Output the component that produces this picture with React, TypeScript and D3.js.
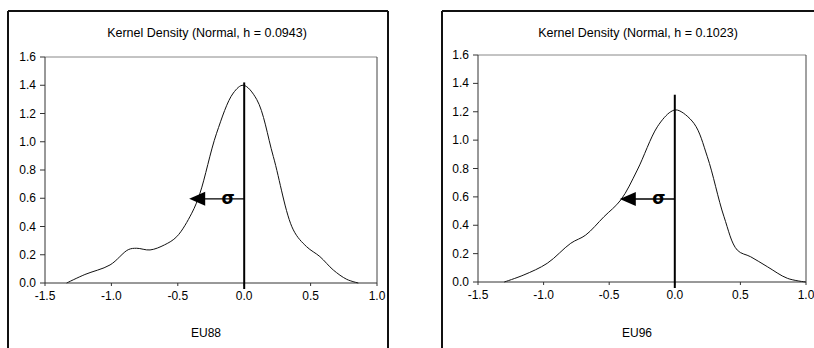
import React from "react";
import * as d3 from "d3";

const xTicks = [-1.5, -1.0, -0.5, 0.0, 0.5, 1.0];
const yTicks = [0.0, 0.2, 0.4, 0.6, 0.8, 1.0, 1.2, 1.4, 1.6];

const eu88X = [-1.337, -1.2, -1.01, -0.873, -0.81, -0.709, -0.6, -0.508, -0.395, -0.333, -0.208, -0.082, -0.007, 0.094, 0.219, 0.37, 0.47, 0.57, 0.671, 0.772, 0.859];
const eu88Y = [0.0, 0.06, 0.128, 0.236, 0.246, 0.234, 0.27, 0.328, 0.494, 0.636, 1.06, 1.345, 1.4, 1.3, 0.896, 0.376, 0.257, 0.187, 0.092, 0.026, 0.0];

const eu96X = [-1.3, -1.15, -0.972, -0.793, -0.679, -0.54, -0.412, -0.286, -0.133, -0.031, 0.019, 0.146, 0.248, 0.375, 0.476, 0.578, 0.705, 0.858, 0.998];
const eu96Y = [0.0, 0.05, 0.132, 0.273, 0.331, 0.46, 0.578, 0.789, 1.094, 1.2, 1.212, 1.118, 0.883, 0.46, 0.225, 0.178, 0.108, 0.026, 0.0];

const titles = ["Kernel Density (Normal, h = 0.0943)", "Kernel Density (Normal, h = 0.1023)"];
const seriesNames = ["EU88", "EU96"];
const sigmaLevels = [0.596, 0.585];
const lineTops = [1.42, 1.32];

const FONT = "'Liberation Sans', Arial, sans-serif";

function Panel(props: {
  xs: number[]; ys: number[]; title: string; name: string;
  left: number; right: number; top: number; bottom: number;
  frameL: number; frameR: number; sigmaY: number; lineTop: number;
}) {
  const { xs, ys, title, name, left, right, top, bottom, frameL, frameR, sigmaY, lineTop } = props;
  const x = d3.scaleLinear().domain([-1.5, 1.0]).range([left, right]);
  const y = d3.scaleLinear().domain([0, 1.6]).range([bottom, top]);
  const pts: [number, number][] = xs.map((v, i) => [v, ys[i]]);
  const line = d3.line<[number, number]>().x(d => x(d[0])).y(d => y(d[1])).curve(d3.curveCatmullRom.alpha(0.5));
  const cx = (left + right) / 2;
  const x0 = x(0);
  const ay = y(sigmaY);
  const tip = x0 - 55;
  return (
    <g fontFamily={FONT} fill="#000">
      {/* outer frame */}
      <line x1={frameL} y1={11} x2={frameR} y2={11} stroke="#111" strokeWidth={2} />
      <line x1={frameL} y1={11} x2={frameL} y2={348} stroke="#111" strokeWidth={2} />
      {frameR < 814 && <line x1={frameR} y1={11} x2={frameR} y2={348} stroke="#111" strokeWidth={2} />}
      <text x={cx - 4} y={37} fontSize={12.5} textAnchor="middle">{title}</text>
      {/* plot box */}
      <line x1={left} y1={top} x2={right} y2={top} stroke="#888" strokeWidth={1} />
      <line x1={right} y1={top} x2={right} y2={bottom} stroke="#444" strokeWidth={1} />
      <line x1={left} y1={top} x2={left} y2={bottom} stroke="#333" strokeWidth={1} />
      <line x1={left} y1={bottom} x2={right} y2={bottom} stroke="#333" strokeWidth={1} />
      {yTicks.map(t => (
        <g key={"y" + t}>
          <line x1={left - 5} x2={left} y1={y(t)} y2={y(t)} stroke="#333" />
          <text x={left - 9} y={y(t) + 4} fontSize={12} textAnchor="end">{t.toFixed(1)}</text>
        </g>
      ))}
      {xTicks.map(t => (
        <g key={"x" + t}>
          <line x1={x(t)} x2={x(t)} y1={bottom} y2={bottom + 3} stroke="#333" />
          <text x={x(t)} y={bottom + 17} fontSize={12} textAnchor="middle">{t.toFixed(1)}</text>
        </g>
      ))}
      <path d={line(pts) || ""} fill="none" stroke="#111" strokeWidth={1} />
      <line x1={x0} x2={x0} y1={y(lineTop)} y2={bottom + 6} stroke="#000" strokeWidth={2} />
      <line x1={tip + 14} x2={x0} y1={ay} y2={ay} stroke="#000" strokeWidth={1.3} />
      <path d={`M${tip},${ay} L${tip + 16},${ay - 7} L${tip + 16},${ay + 7} Z`} fill="#000" />
      <text x={x0 - 16} y={ay + 5} fontSize={17} fontWeight="bold" textAnchor="middle" fontFamily="'DejaVu Sans', sans-serif">σ</text>
      <text x={cx - 5} y={337} fontSize={12} textAnchor="middle">{name}</text>
    </g>
  );
}

export default function App() {
  return (
    <svg width={814} height={348} style={{ position: "absolute", left: 0, top: 0, background: "#fff" }}>
      <rect width={814} height={348} fill="#fff" />
      <Panel xs={eu88X} ys={eu88Y} title={titles[0]} name={seriesNames[0]}
        left={45} right={377} top={57} bottom={283} frameL={8} frameR={388}
        sigmaY={sigmaLevels[0]} lineTop={lineTops[0]} />
      <Panel xs={eu96X} ys={eu96Y} title={titles[1]} name={seriesNames[1]}
        left={478} right={806} top={55} bottom={282} frameL={442} frameR={820}
        sigmaY={sigmaLevels[1]} lineTop={lineTops[1]} />
    </svg>
  );
}
